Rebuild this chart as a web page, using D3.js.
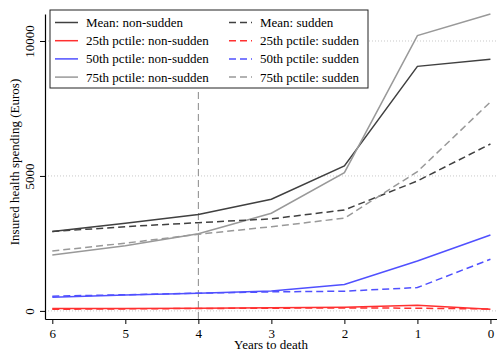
<!DOCTYPE html>
<html>
<head>
<meta charset="utf-8">
<script src="https://cdn.jsdelivr.net/npm/d3@7"></script>
<style>
  body { margin: 0; background: #fff; }
  text { font-family: "Liberation Serif", "Times New Roman", serif; }
</style>
</head>
<body>
<div id="chart"></div>
<script>
const years = [6, 5, 4, 3, 2, 1, 0];
const yTicks = [0, 5000, 10000];

// values (Euros)
const meanNonSudden = [2940, 3250, 3570, 4140, 5370, 9060, 9320];
const p25NonSudden = [85, 90, 100, 115, 135, 210, 60];
const p50NonSudden = [505, 590, 655, 740, 975, 1850, 2815];
const p75NonSudden = [2075, 2410, 2860, 3620, 5120, 10200, 11000];
const meanSudden = [2940, 3120, 3270, 3410, 3740, 4815, 6185];
const p25Sudden = [60, 75, 90, 100, 110, 100, 70];
const p50Sudden = [545, 600, 655, 705, 730, 865, 1915];
const p75Sudden = [2220, 2510, 2840, 3120, 3435, 5160, 7740];

const series = [
    { name: "Mean: non-sudden", values: meanNonSudden, color: "#404040", dash: null },
    { name: "25th pctile: non-sudden", values: p25NonSudden, color: "#ff3030", dash: null },
    { name: "50th pctile: non-sudden", values: p50NonSudden, color: "#5050ff", dash: null },
    { name: "75th pctile: non-sudden", values: p75NonSudden, color: "#999999", dash: null },
    { name: "Mean: sudden", values: meanSudden, color: "#404040", dash: "7,4" },
    { name: "25th pctile: sudden", values: p25Sudden, color: "#ff3030", dash: "7,4" },
    { name: "50th pctile: sudden", values: p50Sudden, color: "#5050ff", dash: "7,4" },
    { name: "75th pctile: sudden", values: p75Sudden, color: "#999999", dash: "7,4" }
];

const width = 497, height = 351;

const svg = d3.select("#chart")
    .append("svg")
    .attr("width", width)
    .attr("height", height);

// Scales
const scaleX = d3.scaleLinear().domain([6.1, -0.09]).range([45, 497]);
const scaleY = d3.scaleLinear().domain([-300, 11000]).range([319, 14]);

// Grid lines (dotted)
svg.append("g")
    .selectAll("line")
    .data(yTicks)
    .join("line")
    .attr("x1", scaleX(6.1)).attr("x2", scaleX(-0.09))
    .attr("y1", d => scaleY(d)).attr("y2", d => scaleY(d))
    .attr("stroke", "#c8c8c8")
    .attr("stroke-width", 1)
    .attr("stroke-dasharray", "1,2");

// Vertical dashed marker at 4 years
svg.append("line")
    .attr("x1", scaleX(4)).attr("x2", scaleX(4))
    .attr("y1", scaleY(-300)).attr("y2", scaleY(11000))
    .attr("stroke", "#888")
    .attr("stroke-width", 1)
    .attr("stroke-dasharray", "7,4");

// Lines
const lineFunc = d3.line()
    .x((d, i) => scaleX(years[i]))
    .y(d => scaleY(d));

svg.append("g")
    .selectAll("path")
    .data(series)
    .join("path")
    .attr("d", d => lineFunc(d.values))
    .attr("fill", "none")
    .attr("stroke", d => d.color)
    .attr("stroke-width", 1.5)
    .attr("stroke-dasharray", d => d.dash);

// X axis
const xAxis = svg.append("g")
    .attr("transform", "translate(0," + scaleY(-300) + ")")
    .call(d3.axisBottom(scaleX).tickValues(years).tickFormat(d3.format("d"))
        .tickSize(5).tickSizeOuter(0).tickPadding(5));
xAxis.selectAll("text").attr("font-size", 13).attr("fill", "#000")
    .style("font-family", "Liberation Serif");
xAxis.select(".domain").attr("stroke", "#000").attr("stroke-width", 1.2);

// Y axis
const yAxis = svg.append("g")
    .attr("transform", "translate(" + scaleX(6.1) + ",0)")
    .call(d3.axisLeft(scaleY).tickValues(yTicks).tickFormat(d3.format("d"))
        .tickSize(5).tickSizeOuter(0));
yAxis.selectAll(".tick text")
    .attr("font-size", 13).attr("fill", "#000")
    .style("font-family", "Liberation Serif")
    .attr("text-anchor", "middle")
    .attr("x", 0).attr("dy", 0)
    .attr("transform", "translate(-11,0) rotate(-90)");
yAxis.select(".domain").attr("stroke", "#000").attr("stroke-width", 1.2);

// Axis titles
svg.append("text")
    .attr("x", 271)
    .attr("y", 349)
    .attr("text-anchor", "middle")
    .attr("font-size", 13)
    .text("Years to death");

svg.append("text")
    .attr("transform", "translate(19," + 162 + ") rotate(-90)")
    .attr("text-anchor", "middle")
    .attr("font-size", 13)
    .text("Insured health spending (Euros)");

// Legend
const legend = svg.append("g").attr("transform", "translate(50,10)");
legend.append("rect")
    .attr("width", 318).attr("height", 78)
    .attr("fill", "#fff")
    .attr("stroke", "#222")
    .attr("stroke-width", 1);

const entry = legend.selectAll("g.entry")
    .data(series)
    .join("g")
    .attr("class", "entry")
    .attr("transform", (d, i) => "translate(" + (i < 4 ? 5 : 179) + "," + (12.5 + (i % 4) * 18.2) + ")");

entry.append("line")
    .attr("x1", 0).attr("x2", 23)
    .attr("stroke", d => d.color)
    .attr("stroke-width", 1.5)
    .attr("stroke-dasharray", d => d.dash);

entry.append("text")
    .attr("x", 31).attr("y", 4.5)
    .attr("font-size", 13)
    .text(d => d.name);
</script>
</body>
</html>
